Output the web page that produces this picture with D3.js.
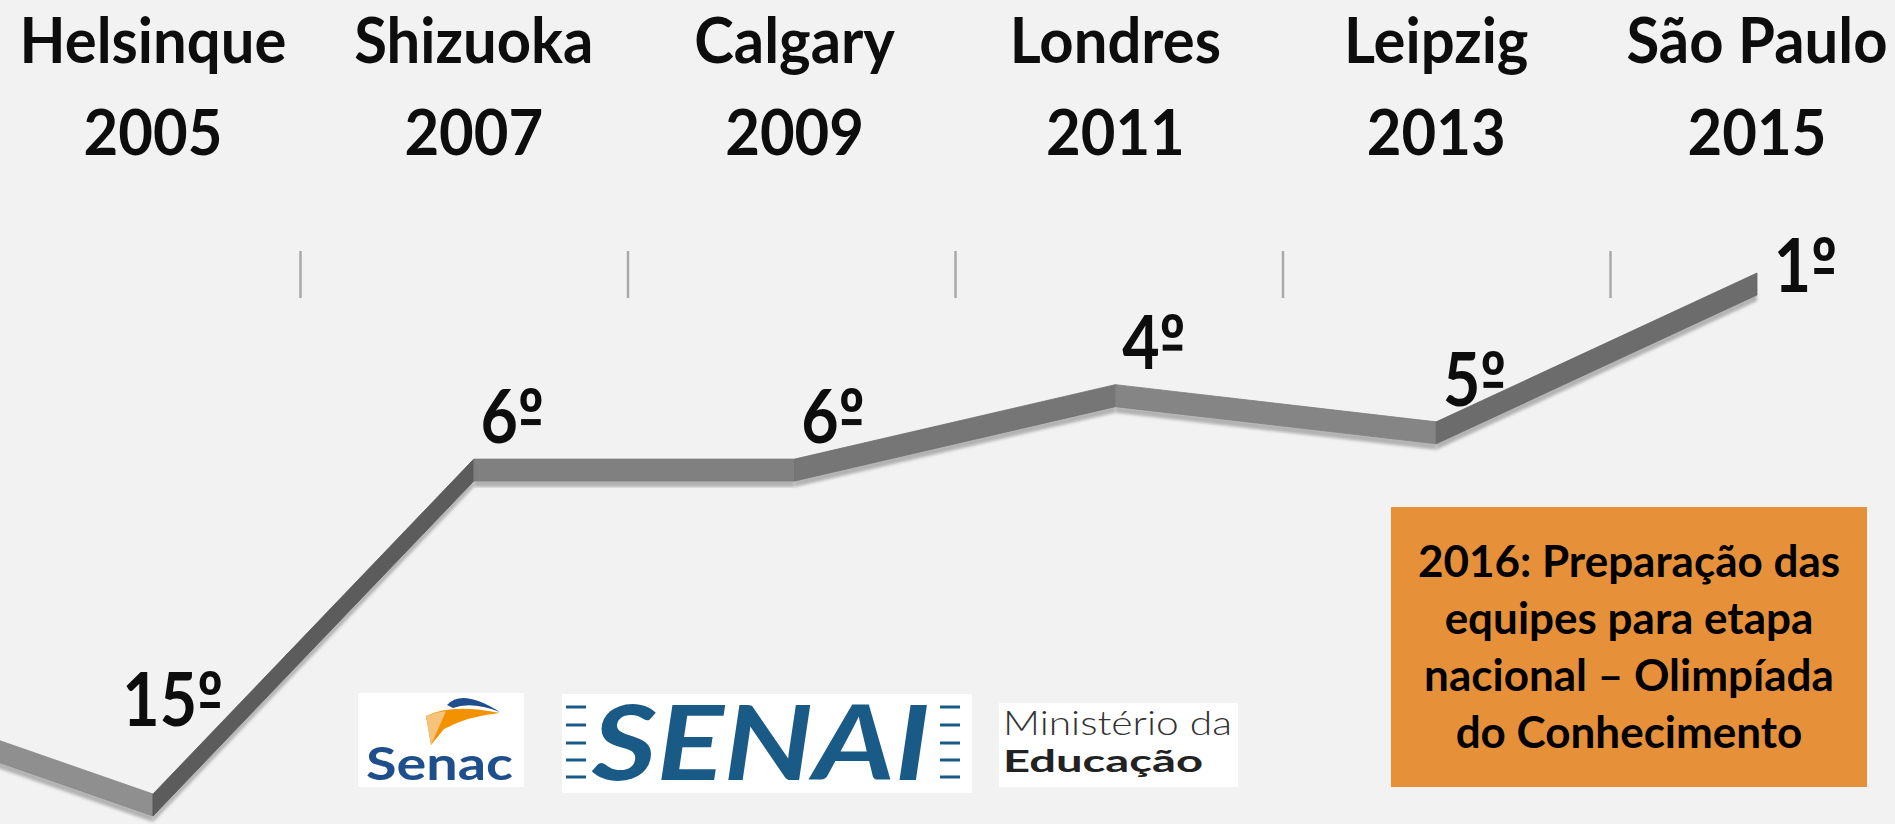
<!DOCTYPE html>
<html lang="pt-BR">
<head>
<meta charset="UTF-8">
<title>Olimpíada do Conhecimento - classificação do Brasil</title>
<script src="https://d3js.org/d3.v7.min.js"></script>
<style>
  body { margin: 0; background: #f2f2f2; }
  svg { display: block; }
  text { font-family: Lato, "Open Sans", sans-serif; }
</style>
</head>
<body>
<svg id="chart" width="1895" height="824"></svg>
<script>
// dados
const cidades = ["Helsinque", "Shizuoka", "Calgary", "Londres", "Leipzig", "São Paulo"];
const anos = ["2005", "2007", "2009", "2011", "2013", "2015"];
const posicoes = [15, 6, 6, 4, 5, 1];
// edição anterior, fora da área visível (só a entrada da linha aparece)
const posicaoAnterior = 12;
const nota = ["2016: Preparação das", "equipes para etapa", "nacional – Olimpíada", "do Conhecimento"];

const W = 1895, H = 824;
const svg = d3.select("#chart").attr("width", W).attr("height", H);

svg.append("rect").attr("width", W).attr("height", H).attr("fill", "#f2f2f2");

const x = d3.scaleLinear().domain([0, anos.length - 1]).range([153, 1757]);
const y = d3.scaleLinear().domain([1, 15]).range([273, 794]);
const xTick = d3.scaleBand().domain(anos).range([-27, 1938]);

// rótulos das categorias (cidade / ano)
const cat = svg.append("g").attr("font-weight", "bold").attr("font-size", 63)
  .attr("text-anchor", "middle").attr("fill", "#0d0d0d");
cat.selectAll(".cidade").data(cidades).join("text")
  .attr("class", "cidade")
  .attr("transform", (d, i) => `translate(${x(i)},63) scale(0.95,1)`).text(d => d);
cat.selectAll(".ano").data(anos).join("text")
  .attr("class", "ano")
  .attr("transform", (d, i) => `translate(${x(i)},155) scale(0.95,1)`).text(d => d);

// marcas do eixo entre categorias
svg.append("g").selectAll("line").data(anos.slice(1)).join("line")
  .attr("x1", d => xTick(d)).attr("x2", d => xTick(d))
  .attr("y1", 251).attr("y2", 298)
  .attr("stroke", "#a9a9a9").attr("stroke-width", 2.5);

// linha em "3D": faixa extrudada na vertical
const pontos = [{ i: -1, v: posicaoAnterior }].concat(posicoes.map((v, i) => ({ i, v })));
const esp = 22;
const defs = svg.append("defs");
defs.append("filter").attr("id", "blur").append("feGaussianBlur").attr("stdDeviation", 1.6);

const segs = d3.pairs(pontos);
const tom = ([a, b], base) => {
  const ang = Math.atan2(y(b.v) - y(a.v), x(b.i) - x(a.i));
  const g = Math.max(70, Math.min(150, Math.round(base + 45 * ang)));
  return d3.rgb(g, g, g);
};
const linha = svg.append("g");
linha.selectAll(".sombra").data(segs).join("path")
  .attr("class", "sombra")
  .attr("d", ([a, b]) => {
    const x0 = x(a.i), y0 = y(a.v), x1 = x(b.i), y1 = y(b.v);
    return `M${x0},${y0 + esp - 1}L${x1},${y1 + esp - 1}L${x1},${y1 + esp + 6}L${x0},${y0 + esp + 6}Z`;
  })
  .attr("fill", "#9c9c9c").attr("opacity", 0.75).attr("filter", "url(#blur)");

linha.selectAll(".face").data(segs).join("path")
  .attr("class", "face")
  .attr("d", ([a, b]) => {
    const x0 = x(a.i), y0 = y(a.v), x1 = x(b.i), y1 = y(b.v);
    return `M${x0},${y0}L${x1},${y1}L${x1},${y1 + esp}L${x0},${y0 + esp}Z`;
  })
  .attr("fill", s => tom(s, 128))
  .attr("stroke", s => tom(s, 120))
  .attr("stroke-width", 0.8);

// rótulos das posições (º sublinhado, como na fonte original)
const ult = posicoes.length - 1;
const rot = svg.append("g").attr("font-weight", "bold").attr("font-size", 75).attr("fill", "#0d0d0d")
  .selectAll("g").data(posicoes).join("g")
  .attr("transform", (d, i) => {
    const dx = i === ult ? 80 : 70;
    const dy = i === 0 ? -68 : i === ult ? 19 : -16;
    return `translate(${x(i) + dx},${y(d) + dy}) scale(0.86,1)`;
  });
rot.append("text").attr("text-anchor", "end").text(d => d + "º");
rot.each(function () {
  const t = d3.select(this).select("text").node();
  const e = t.getExtentOfChar(t.getNumberOfChars() - 1);
  d3.select(this).append("rect")
    .attr("x", e.x + e.width * 0.12).attr("width", e.width * 0.76)
    .attr("y", -24).attr("height", 6).attr("fill", "#0d0d0d");
});

// logotipos
const logos = svg.append("g");
// Senac
logos.append("rect").attr("x", 358).attr("y", 693).attr("width", 166).attr("height", 94).attr("fill", "#fff");
logos.append("path").attr("d", "M447,705 Q462,688 500,712 Q472,701 453,708 Z").attr("fill", "#1f4e8c");
logos.append("path").attr("d", "M431,745 L426,716 Q452,703 500,713 Q468,716 444,729 Z").attr("fill", "#f39200");
logos.append("path").attr("d", "M431,745 L426,716 Q436,712 446,711 Z").attr("fill", "#f7c27a");
logos.append("text").attr("x", 366).attr("y", 780).attr("font-size", 46).attr("font-weight", "bold")
  .attr("fill", "#1f4e8c").attr("textLength", 147).attr("lengthAdjust", "spacingAndGlyphs").text("Senac");
// SENAI
logos.append("rect").attr("x", 562).attr("y", 694).attr("width", 410).attr("height", 99).attr("fill", "#fff");
logos.append("text").attr("x", 592).attr("y", 780).attr("font-size", 103).attr("font-weight", "bold")
  .attr("font-style", "italic").attr("font-family", "'Liberation Sans', Arial, sans-serif")
  .attr("fill", "#1a5a86").attr("textLength", 338).attr("lengthAdjust", "spacingAndGlyphs").text("SENAI");
const tracos = [707, 725, 743, 760, 777];
[566, 940].forEach(x0 => {
  logos.append("g").selectAll("line").data(tracos).join("line")
    .attr("x1", x0).attr("x2", x0 + 20).attr("y1", d => d).attr("y2", d => d)
    .attr("stroke", "#1a5a86").attr("stroke-width", 3);
});
// Ministério da Educação
logos.append("rect").attr("x", 999).attr("y", 703).attr("width", 239).attr("height", 84).attr("fill", "#fff");
logos.append("text").attr("x", 1003).attr("y", 735).attr("font-size", 34).attr("font-weight", 300)
  .attr("fill", "#333").attr("textLength", 229).attr("lengthAdjust", "spacingAndGlyphs").text("Ministério da");
logos.append("text").attr("x", 1003).attr("y", 772).attr("font-size", 31).attr("font-weight", "bold")
  .attr("fill", "#222").attr("textLength", 200).attr("lengthAdjust", "spacingAndGlyphs").text("Educação");

// caixa laranja
svg.append("rect").attr("x", 1391).attr("y", 507).attr("width", 476).attr("height", 280).attr("fill", "#e6913a");
svg.append("g").attr("font-weight", "bold").attr("font-size", 44).attr("text-anchor", "middle").attr("fill", "#000")
  .selectAll("text").data(nota).join("text")
  .attr("x", 1629).attr("y", (d, i) => 577 + i * 57).text(d => d);
</script>
</body>
</html>
